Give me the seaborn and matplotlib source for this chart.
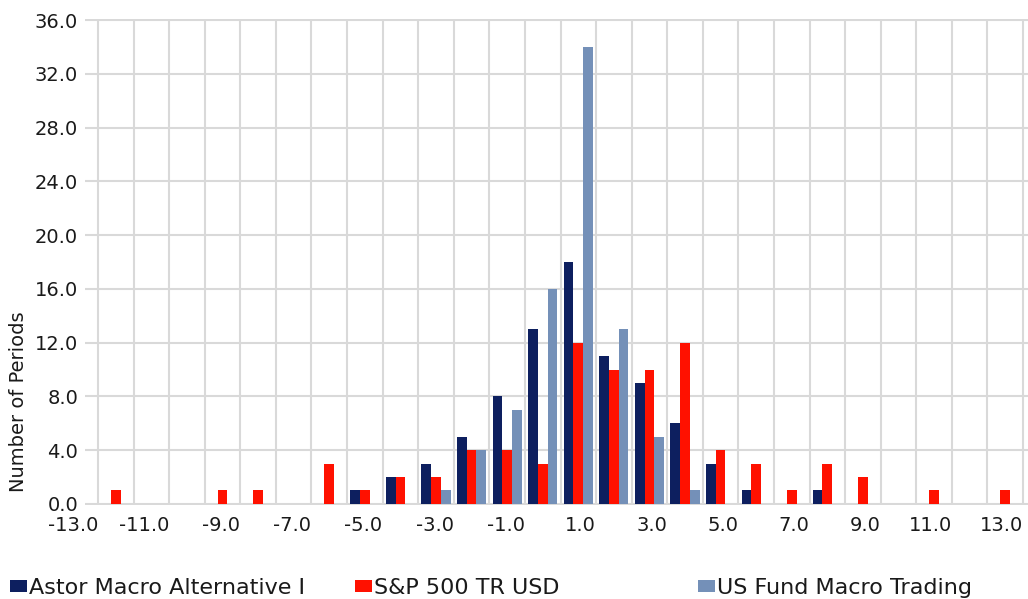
import matplotlib
matplotlib.use("Agg")
import matplotlib.pyplot as plt
import seaborn as sns
import pandas as pd

# ---- data ----
bin_centers = [-12.5, -11.5, -10.5, -9.5, -8.5, -7.5, -6.5, -5.5, -4.5, -3.5,
               -2.5, -1.5, -0.5, 0.5, 1.5, 2.5, 3.5, 4.5, 5.5, 6.5,
               7.5, 8.5, 9.5, 10.5, 11.5, 12.5]
astor = [0, 0, 0, 0, 0, 0, 0, 1, 2, 3, 5, 8, 13, 18, 11, 9, 6, 3, 1, 0, 1, 0, 0, 0, 0, 0]
sp500 = [1, 0, 0, 1, 1, 0, 3, 1, 2, 2, 4, 4, 3, 12, 10, 10, 12, 4, 3, 1, 3, 2, 0, 1, 0, 1]
usfund = [0, 0, 0, 0, 0, 0, 0, 0, 0, 1, 4, 7, 16, 34, 13, 5, 1, 0, 0, 0, 0, 0, 0, 0, 0, 0]
series_names = ["Astor Macro Alternative I", "S&P 500 TR USD", "US Fund Macro Trading"]
x_tick_values = [-13, -11, -9, -7, -5, -3, -1, 1, 3, 5, 7, 9, 11, 13]
y_tick_values = [0, 4, 8, 12, 16, 20, 24, 28, 32, 36]

colors = ["#0d1f5f", "#ff1100", "#7490b8"]

df = pd.DataFrame({
    "bin": bin_centers * 3,
    "series": [series_names[0]] * len(bin_centers)
              + [series_names[1]] * len(bin_centers)
              + [series_names[2]] * len(bin_centers),
    "count": astor + sp500 + usfund,
})

sns.set_style("white")
plt.rcParams["font.family"] = ["DejaVu Sans"]
text_color = "#1a1a1a"
grid_color = "#d9d9d9"

fig, ax = plt.subplots(figsize=(10.28, 5.99), dpi=100)
fig.subplots_adjust(left=85 / 1028, right=1.0, top=1 - 19 / 599, bottom=1 - 505 / 599)

sns.barplot(data=df, x="bin", y="count", hue="series", hue_order=series_names,
            palette=colors, saturation=1, native_scale=True, width=0.82, gap=0,
            linewidth=0, errorbar=None, ax=ax)

ax.set_axisbelow(True)
for s in ax.spines.values():
    s.set_visible(False)

ax.set_xlim(-13.365, 13.14)
ax.set_ylim(-0.08, 36.08)

ax.set_xticks(x_tick_values)
ax.set_xticklabels([f"{v:.1f}" for v in x_tick_values], fontsize=14, color=text_color)
for lbl in ax.get_xticklabels():
    lbl.set_ha("right")
ax.set_xticks(range(-13, 14), minor=True)
ax.tick_params(axis="x", which="major", length=4, width=1.5, color=grid_color, pad=4)
ax.tick_params(axis="x", which="minor", length=0)

ax.set_yticks(y_tick_values)
ax.set_yticklabels([f"{v:.1f}" for v in y_tick_values], fontsize=14, color=text_color)
ax.tick_params(axis="y", length=0, pad=5)

ax.xaxis.grid(True, which="major", color=grid_color, linewidth=1.5)
ax.xaxis.grid(True, which="minor", color=grid_color, linewidth=1.5)
ax.yaxis.grid(True, which="major", color=grid_color, linewidth=1.5)

ax.set_xlabel("")
ax.set_ylabel("Number of Periods", fontsize=14, color=text_color)
ax.yaxis.set_label_coords(-0.060, 0.213)

leg = ax.get_legend()
handles = leg.legend_handles
leg.remove()
x_positions = [10 / 1028, 355 / 1028, 698 / 1028]
for h, name, xp in zip(handles, series_names, x_positions):
    fig.legend(handles=[h], labels=[name], loc="center left",
               bbox_to_anchor=(xp, 1 - 588 / 599), frameon=False,
               fontsize=16, handlelength=0.75, handleheight=0.4,
               handletextpad=0.12, borderpad=0, borderaxespad=0,
               labelcolor=text_color)

fig.savefig("out.png", dpi=100)
